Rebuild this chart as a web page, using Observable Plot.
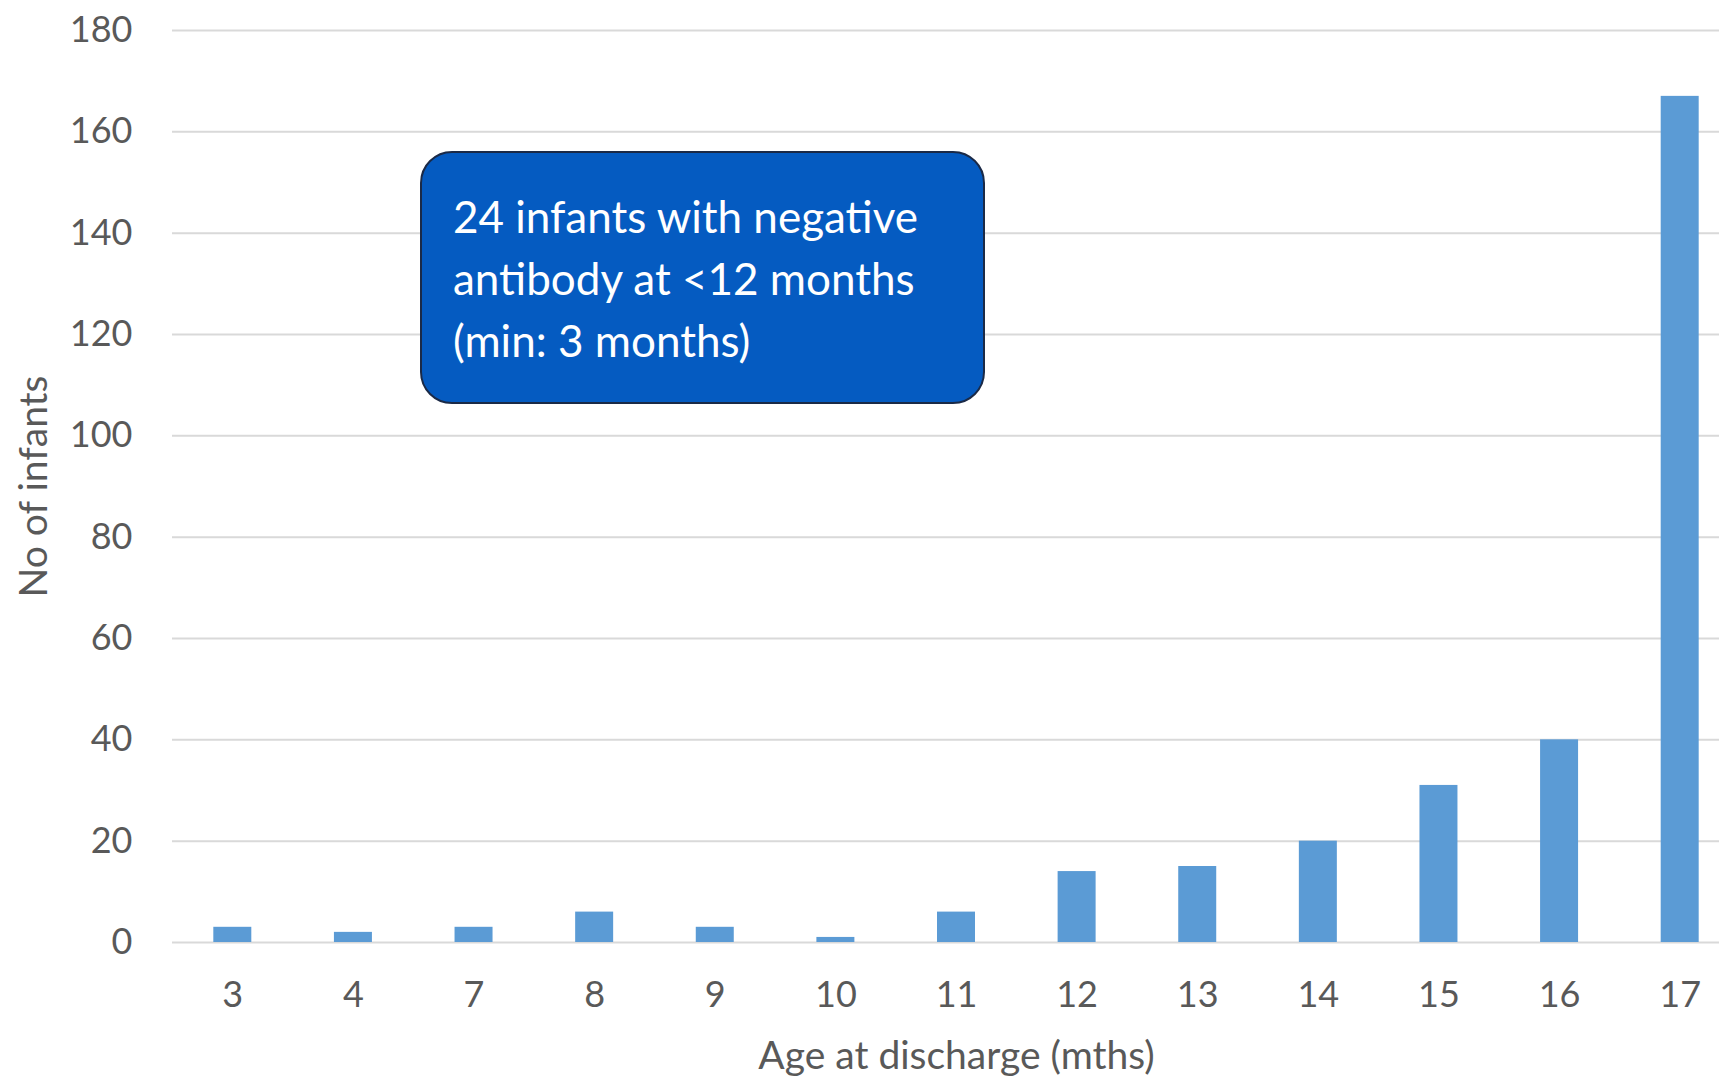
<!DOCTYPE html>
<html>
<head>
<meta charset="utf-8">
<script src="https://cdn.jsdelivr.net/npm/d3@7"></script>
<script src="https://cdn.jsdelivr.net/npm/@observablehq/plot@0.6"></script>
<style>
  html, body { margin: 0; padding: 0; background: #fff; overflow: hidden; }
  #wrap { position: relative; width: 1719px; height: 1076px; overflow: hidden; }
  #wrap svg { max-width: none !important; }
  #note {
    position: absolute; box-sizing: border-box;
    background: #055BC1; border: 2.5px solid #1b2a47; border-radius: 32px;
    color: #fff; font-family: Lato, "Open Sans", sans-serif; font-size: 44px;
    line-height: 62px; padding: 31.5px 0 0 31px; white-space: nowrap;
  }
</style>
</head>
<body>
<div id="wrap"></div>
<script>
const ages = ["3", "4", "7", "8", "9", "10", "11", "12", "13", "14", "15", "16", "17"];
const counts = [3, 2, 3, 6, 3, 1, 6, 14, 15, 20, 31, 40, 167];
const yTicks = [0, 20, 40, 60, 80, 100, 120, 140, 160, 180];
const noteLines = ["24 infants with negative", "antibody at <12 months", "(min: 3 months)"];

const data = ages.map((a, i) => ({age: a, n: counts[i]}));

const chart = Plot.plot({
  width: 1740,
  height: 1076,
  marginTop: 30,
  marginBottom: 134,
  marginLeft: 172,
  marginRight: 0,
  style: {fontFamily: "Lato, 'Open Sans', sans-serif", fontSize: "36px", color: "#595959", background: "#fff", maxWidth: "none"},
  x: {domain: ages, paddingInner: 0.685, paddingOuter: 0.3425, round: false, label: null},
  y: {domain: [0, 180], label: null},
  marks: [
    Plot.gridY(yTicks, {stroke: "#d9d9d9", strokeOpacity: 1, strokeWidth: 2}),
    Plot.barY(data, {x: "age", y: "n", fill: "#5B9BD5"}),
    Plot.axisY(yTicks, {tickSize: 0, tickPadding: 40, fill: "#595959"}),
    Plot.axisY({ticks: [], label: "No of infants", labelAnchor: "center", labelArrow: "none", labelOffset: 153, fill: "#595959", fontSize: 39}),
    Plot.axisX({tickSize: 0, tickPadding: 39, fill: "#595959"}),
    Plot.axisX({ticks: [], label: "Age at discharge (mths)", labelAnchor: "center", labelArrow: "none", labelOffset: 126, fill: "#595959", fontSize: 39})
  ]
});
chart.style.maxWidth = "none";

const wrap = document.getElementById("wrap");
wrap.appendChild(chart);

const ys = chart.scale("y");
const note = document.createElement("div");
note.id = "note";
const noteTop = ys.apply(156.1), noteBottom = ys.apply(106.2);
note.style.left = "420px";
note.style.top = noteTop + "px";
note.style.width = "565px";
note.style.height = (noteBottom - noteTop) + "px";
note.innerHTML = noteLines.map(s => s.replace(/</g, "&lt;")).join("<br>");
wrap.appendChild(note);
</script>
</body>
</html>
